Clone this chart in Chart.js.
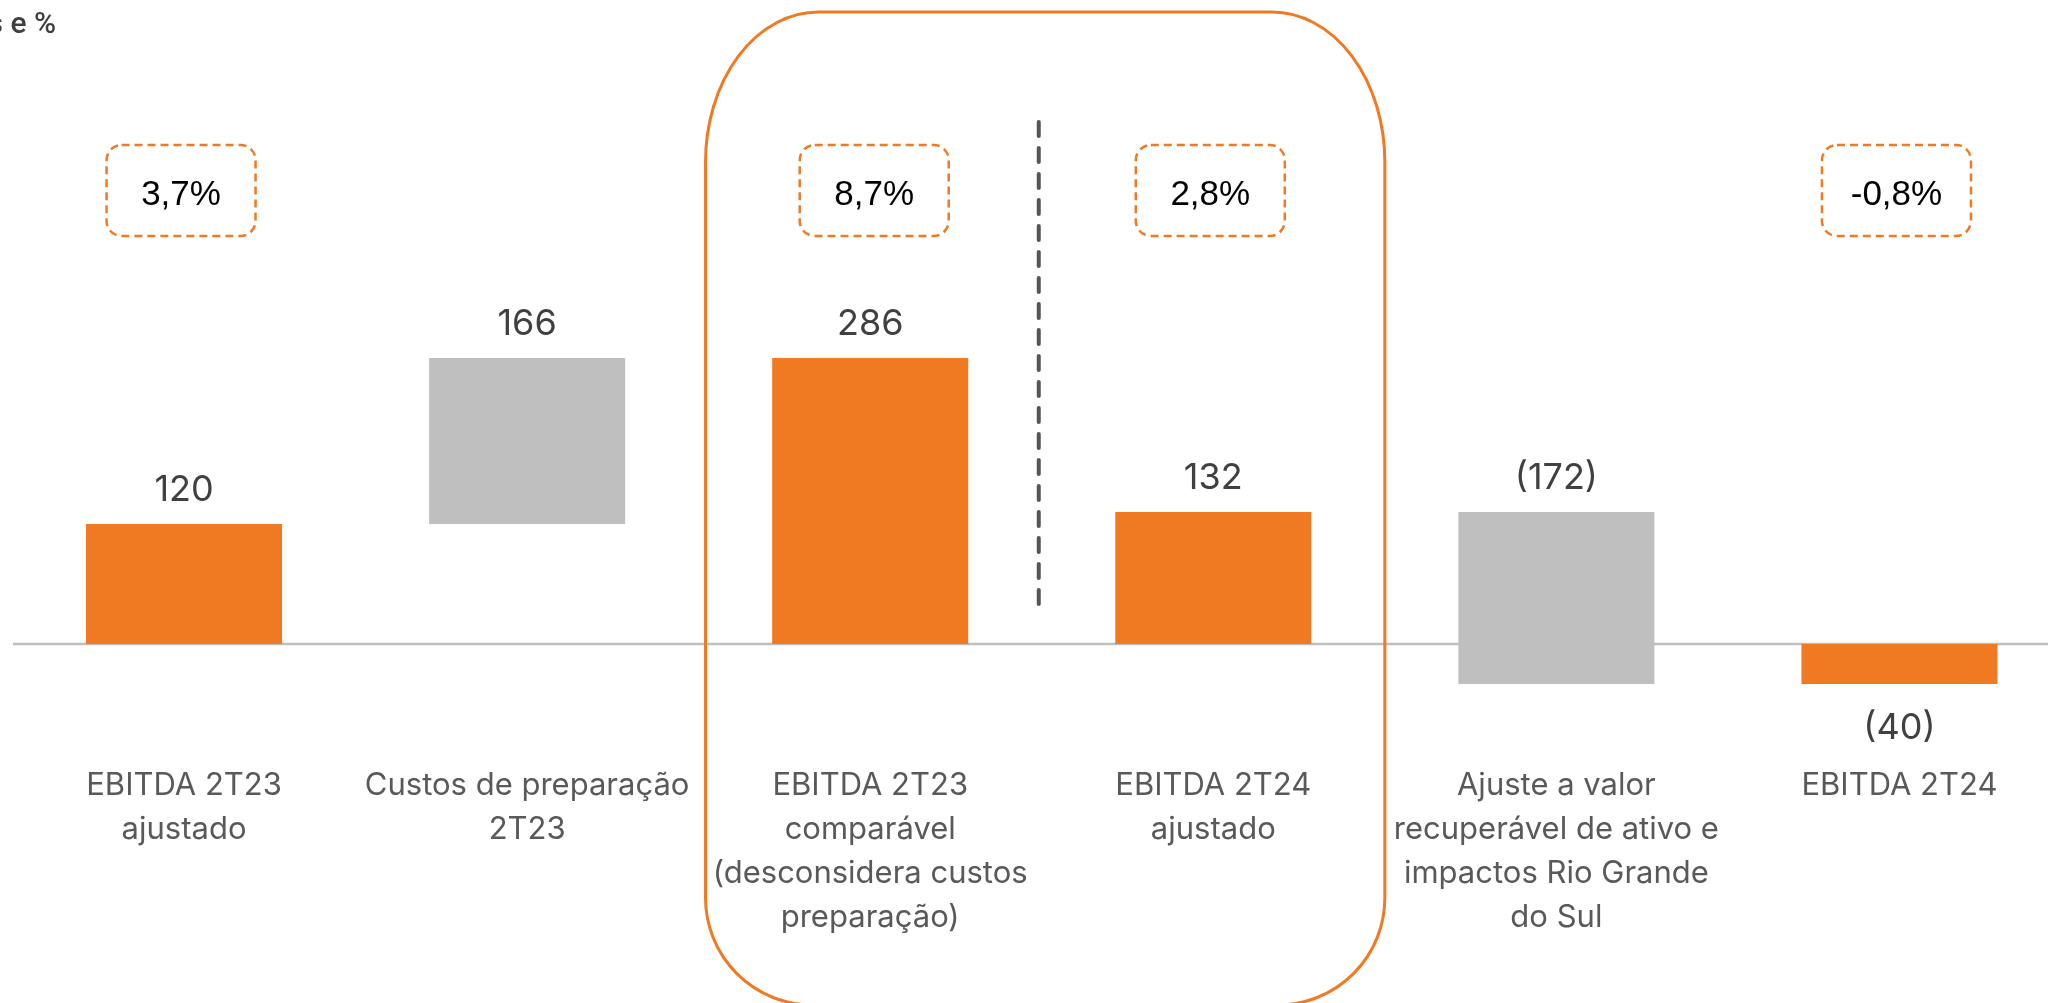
<!DOCTYPE html>
<html>
<head>
<meta charset="utf-8">
<script src="https://cdn.jsdelivr.net/npm/chart.js@4/dist/chart.umd.min.js"></script>
<style>
  html, body { margin: 0; padding: 0; background: #ffffff; overflow: hidden; }
  #wrap { position: relative; width: 2071px; height: 1003px; }
</style>
</head>
<body>
<div id="wrap"><canvas id="c"></canvas></div>
<script>
// EBITDA bridge, R$ milhões
const categoryLines = [
  ['EBITDA 2T23', 'ajustado'],
  ['Custos de preparação', '2T23'],
  ['EBITDA 2T23', 'comparável', '(desconsidera custos', 'preparação)'],
  ['EBITDA 2T24', 'ajustado'],
  ['Ajuste a valor', 'recuperável de ativo e', 'impactos Rio Grande', 'do Sul'],
  ['EBITDA 2T24']
];
const values = [120, 166, 286, 132, -172, -40];
const isTotal = [true, false, true, true, false, true];
const margins = ['3,7%', null, '8,7%', '2,8%', null, '-0,8%'];
const unitTitle = 'R$ milhões e %';

const ORANGE = '#F07A22';
const GREY = '#BFBFBF';

// floating ranges for the waterfall
const ranges = [];
let running = 0;
values.forEach((v, i) => {
  if (isTotal[i]) { ranges.push([0, v]); running = v; }
  else { ranges.push([running, running + v]); running += v; }
});

const fmt = v => v < 0 ? '(' + (-v) + ')' : String(v);

function roundRectEllipse(ctx, x0, y0, x1, y1, rxT, ryT, rB) {
  ctx.beginPath();
  ctx.moveTo(x0 + rxT, y0);
  ctx.lineTo(x1 - rxT, y0);
  ctx.ellipse(x1 - rxT, y0 + ryT, rxT, ryT, 0, -Math.PI / 2, 0);
  ctx.lineTo(x1, y1 - rB);
  ctx.arc(x1 - rB, y1 - rB, rB, 0, Math.PI / 2);
  ctx.lineTo(x0 + rB, y1);
  ctx.arc(x0 + rB, y1 - rB, rB, Math.PI / 2, Math.PI);
  ctx.lineTo(x0, y0 + ryT);
  ctx.ellipse(x0 + rxT, y0 + ryT, rxT, ryT, 0, Math.PI, Math.PI * 1.5);
  ctx.closePath();
}

// horizontal nudge of each margin box relative to its bar centre
const boxShift = [-3, 0, 4, -3, 0, -3];

const decorations = {
  id: 'decorations',
  beforeDatasetsDraw(chart) {
    const { ctx, scales: { y } } = chart;
    const y0 = y.getPixelForValue(0);
    ctx.save();
    ctx.strokeStyle = GREY;
    ctx.lineWidth = 2.5;
    ctx.beginPath();
    ctx.moveTo(13, y0);
    ctx.lineTo(chart.width, y0);
    ctx.stroke();
    ctx.restore();
  },
  afterDatasetsDraw(chart) {
    const { ctx, scales: { x, y } } = chart;
    const meta = chart.getDatasetMeta(0);
    const step = x.getPixelForValue(1) - x.getPixelForValue(0);

    ctx.save();
    // unit title (partly outside the canvas on the left)
    ctx.fillStyle = '#404040';
    ctx.font = '500 30px Roboto, sans-serif';
    ctx.textAlign = 'right';
    ctx.textBaseline = 'middle';
    ctx.fillText(unitTitle, 56, 25);

    // value labels
    ctx.font = '36px Inter, sans-serif';
    ctx.fillStyle = '#404040';
    ctx.textAlign = 'center';
    ctx.textBaseline = 'alphabetic';
    meta.data.forEach((bar, i) => {
      const top = Math.min(bar.y, bar.base);
      const bottom = Math.max(bar.y, bar.base);
      const v = values[i];
      if (isTotal[i] && v < 0) {
        ctx.fillText(fmt(v), bar.x, bottom + 55);
      } else {
        ctx.fillText(fmt(v), bar.x, top - 23);
      }
    });

    // category labels
    ctx.font = '31px Inter, sans-serif';
    ctx.fillStyle = '#595959';
    categoryLines.forEach((lines, i) => {
      const cx = x.getPixelForValue(i);
      lines.forEach((t, k) => ctx.fillText(t, cx, 795 + k * 44));
    });

    // margin boxes
    margins.forEach((m, i) => {
      if (!m) return;
      const cx = x.getPixelForValue(i) + boxShift[i];
      const bw = 149, bh = 91, by = 145;
      ctx.setLineDash([8, 5]);
      ctx.strokeStyle = ORANGE;
      ctx.lineWidth = 2.5;
      ctx.beginPath();
      ctx.roundRect(cx - bw / 2, by, bw, bh, 15);
      ctx.stroke();
      ctx.setLineDash([]);
      ctx.fillStyle = '#000000';
      ctx.font = '35px "Liberation Sans", Arial, sans-serif';
      ctx.textBaseline = 'middle';
      ctx.fillText(m, cx, by + bh / 2 + 5);
      ctx.textBaseline = 'alphabetic';
    });

    // separator between comparable and adjusted EBITDA
    const sx = (x.getPixelForValue(2) + x.getPixelForValue(3)) / 2 - 3;
    ctx.setLineDash([14, 12]);
    ctx.lineCap = 'round';
    ctx.strokeStyle = '#555555';
    ctx.lineWidth = 4;
    ctx.beginPath();
    ctx.moveTo(sx, 122);
    ctx.lineTo(sx, 609);
    ctx.stroke();
    ctx.setLineDash([]);
    ctx.lineCap = 'butt';

    // highlight frame around the comparable pair
    const fx0 = x.getPixelForValue(2) - step * 0.48;
    const fx1 = x.getPixelForValue(3) + step * 0.5;
    ctx.strokeStyle = ORANGE;
    ctx.lineWidth = 3;
    roundRectEllipse(ctx, fx0, 12, fx1, 1005, 113, 150, 107);
    ctx.stroke();
    ctx.restore();
  }
};

new Chart(document.getElementById('c'), {
  type: 'bar',
  data: {
    labels: categoryLines.map(l => l.join(' ')),
    datasets: [{
      data: ranges,
      backgroundColor: isTotal.map(t => t ? ORANGE : GREY),
      borderWidth: 0,
      categoryPercentage: 1,
      barPercentage: 0.5714
    }]
  },
  options: {
    responsive: true,
    maintainAspectRatio: false,
    devicePixelRatio: 1,
    animation: false,
    layout: { padding: { left: 12.5, right: 0, top: 0, bottom: 0 } },
    plugins: { legend: { display: false }, tooltip: { enabled: false } },
    scales: {
      x: { display: false, offset: true, grid: { display: false } },
      y: { display: false, min: -359, max: 644 }
    }
  },
  plugins: [decorations]
});
</script>
</body>
</html>
